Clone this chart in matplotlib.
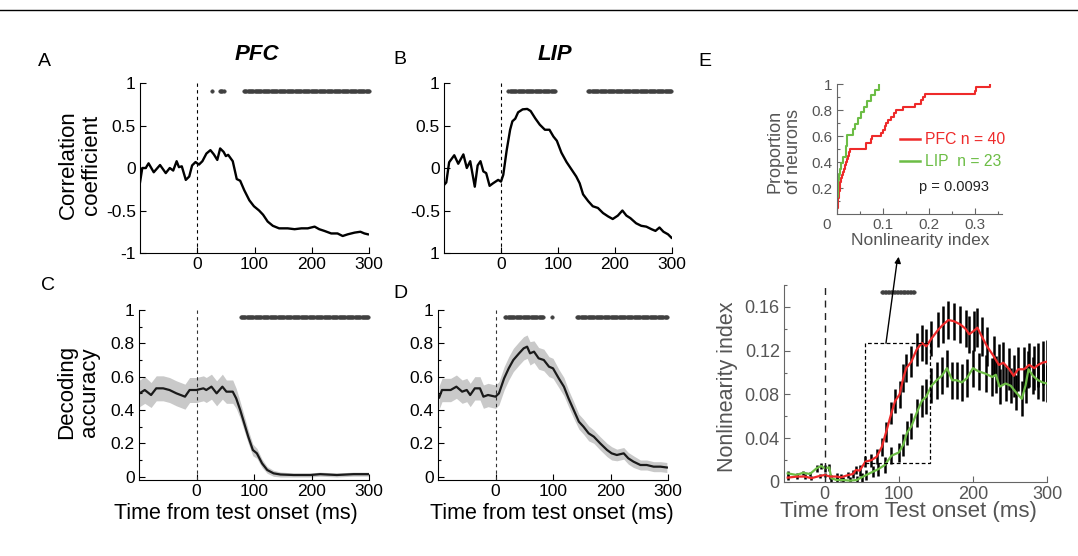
import numpy as np
import matplotlib
matplotlib.use('Agg')
import matplotlib.pyplot as plt
from matplotlib.lines import Line2D

plt.rcParams['font.family'] = ['Liberation Sans', 'DejaVu Sans']
plt.rcParams['axes.unicode_minus'] = False

# ---------------- data ----------------
# Panel A (PFC correlation coefficient)
a_t = [-100, -96, -90, -85, -76, -65, -55, -48, -42, -36, -32, -27, -20, -14, -9, -3, 3, 9, 16, 23, 29, 35, 40,
       46, 50, 54, 62, 69, 75, 82, 91, 99, 108, 115, 123, 132, 143, 158, 170, 182, 193, 205, 213, 222, 234, 245,
       254, 263, 275, 285, 292, 298]
a_v = [-0.17, 0.00, 0.00, 0.055, -0.05, 0.035, -0.06, 0.00, -0.03, 0.08, 0.01, 0.02, -0.14, -0.10, 0.03, 0.07,
       0.04, 0.08, 0.17, 0.21, 0.16, 0.095, 0.23, 0.19, 0.14, 0.155, 0.08, -0.13, -0.15, -0.26, -0.38, -0.45,
       -0.50, -0.55, -0.63, -0.68, -0.71, -0.71, -0.72, -0.71, -0.71, -0.69, -0.72, -0.74, -0.77, -0.77, -0.80,
       -0.78, -0.76, -0.75, -0.77, -0.78]
a_sig = [(25, 25), (40, 46), (82, 300)]

# Panel B (LIP correlation coefficient)
b_t = [-100, -96, -91, -82, -75, -66, -60, -54, -46, -41, -36, -31, -26, -20, -14, -5, 0, 4, 10, 16, 20, 25,
       30, 38, 46, 52, 60, 68, 77, 85, 92, 98, 106, 115, 124, 132, 138, 144, 153, 161, 170, 179, 188, 196, 205,
       213, 220, 227, 237, 246, 255, 264, 271, 278, 285, 293, 299]
b_v = [-0.20, -0.17, 0.067, 0.15, 0.05, 0.16, 0.00, 0.08, -0.22, 0.03, 0.08, -0.04, -0.06, -0.21, -0.18, -0.14,
       -0.16, -0.08, 0.21, 0.45, 0.55, 0.58, 0.655, 0.69, 0.695, 0.67, 0.585, 0.51, 0.45, 0.45, 0.37, 0.32, 0.18,
       0.07, -0.02, -0.10, -0.18, -0.31, -0.39, -0.45, -0.47, -0.53, -0.57, -0.60, -0.56, -0.50, -0.56, -0.59,
       -0.65, -0.68, -0.69, -0.72, -0.74, -0.70, -0.75, -0.78, -0.82]
b_sig = [(13, 96), (153, 300)]

# Panel C (PFC decoding accuracy)
c_t = [-99, -90, -79, -70, -58, -47, -35, -20, -12, 0, 12, 17, 26, 35, 45, 52, 63, 69, 76, 83, 90, 98, 105,
       114, 123, 134, 146, 169, 198, 215, 244, 273, 299]
c_v = [0.50, 0.52, 0.49, 0.53, 0.53, 0.52, 0.50, 0.48, 0.52, 0.52, 0.53, 0.52, 0.54, 0.50, 0.54, 0.51, 0.51,
       0.47, 0.40, 0.32, 0.24, 0.16, 0.14, 0.08, 0.04, 0.02, 0.013, 0.01, 0.01, 0.015, 0.01, 0.015, 0.015]
c_se = [0.08, 0.08, 0.075, 0.075, 0.075, 0.075, 0.075, 0.075, 0.075, 0.075, 0.075, 0.075, 0.075, 0.075, 0.075,
        0.07, 0.07, 0.06, 0.05, 0.045, 0.04, 0.035, 0.03, 0.025, 0.02, 0.018, 0.015, 0.012, 0.012, 0.012, 0.012,
        0.012, 0.012]
c_sig = [(77, 300)]

# Panel D (LIP decoding accuracy)
d_t = [-98, -93, -78, -68, -58, -50, -44, -36, -27, -21, -13, 0, 6, 15, 23, 31, 41, 49, 55, 60, 67, 75, 84, 93,
       100, 110, 119, 127, 136, 145, 153, 162, 171, 182, 194, 202, 211, 223, 231, 240, 252, 263, 275, 287, 298]
d_v = [0.475, 0.52, 0.52, 0.54, 0.51, 0.52, 0.49, 0.53, 0.53, 0.48, 0.49, 0.48, 0.50, 0.59, 0.65, 0.70, 0.74,
       0.77, 0.78, 0.74, 0.75, 0.71, 0.70, 0.66, 0.65, 0.59, 0.54, 0.47, 0.40, 0.33, 0.30, 0.26, 0.24, 0.20, 0.16,
       0.14, 0.13, 0.14, 0.11, 0.09, 0.07, 0.07, 0.06, 0.06, 0.055]
d_se = [0.07, 0.07, 0.07, 0.07, 0.07, 0.07, 0.07, 0.07, 0.07, 0.07, 0.07, 0.07, 0.07, 0.07, 0.07, 0.07, 0.07,
        0.07, 0.07, 0.07, 0.065, 0.065, 0.065, 0.06, 0.06, 0.055, 0.055, 0.05, 0.05, 0.045, 0.045, 0.045, 0.04,
        0.04, 0.04, 0.04, 0.035, 0.035, 0.035, 0.035, 0.03, 0.03, 0.03, 0.03, 0.03]
d_sig = [(17, 84), (98, 98), (142, 298)]

# Panel E main (nonlinearity index)
pfc_t = [-50, -38, -27, -18, -7, 0, 7, 16, 22, 32, 38, 42, 47, 55, 63, 70, 77, 83, 90, 95, 101, 106, 110, 117,
         124, 131, 137, 144, 153, 160, 167, 174, 183, 190, 195, 201, 206, 212, 219, 228, 235, 241, 249, 255, 261,
         269, 276, 283, 288, 294, 300]
pfc_v = [0.0040, 0.0049, 0.0050, 0.0035, 0.0055, 0.0064, 0.0050, 0.0050, 0.0043, 0.0064, 0.0073, 0.0110, 0.0104,
         0.0186, 0.0200, 0.0230, 0.0320, 0.0460, 0.0630, 0.0740, 0.0800, 0.0950, 0.1040, 0.1100, 0.1210, 0.1270,
         0.1240, 0.1310, 0.1390, 0.1440, 0.1480, 0.1470, 0.1440, 0.1400, 0.1350, 0.1380, 0.1410, 0.1330, 0.1240,
         0.1150, 0.1070, 0.1090, 0.1030, 0.0970, 0.1030, 0.1030, 0.1070, 0.1040, 0.1070, 0.1090, 0.1100]
pfc_err = [0.002, 0.002, 0.002, 0.002, 0.002, 0.002, 0.002, 0.003, 0.003, 0.003, 0.004, 0.004, 0.005, 0.005,
           0.006, 0.007, 0.008, 0.009, 0.010, 0.011, 0.012, 0.013, 0.013, 0.014, 0.015, 0.016, 0.016, 0.016,
           0.016, 0.017, 0.017, 0.017, 0.017, 0.017, 0.017, 0.018, 0.018, 0.018, 0.018, 0.018, 0.019, 0.019,
           0.019, 0.019, 0.020, 0.020, 0.020, 0.020, 0.020, 0.020, 0.020]
lip_t = [-50, -38, -29, -20, -11, -5, 0, 6, 9, 16, 25, 34, 43, 50, 56, 65, 72, 81, 90, 100, 106, 111, 117, 124,
         131, 137, 144, 151, 158, 165, 172, 178, 185, 192, 200, 208, 217, 226, 231, 236, 244, 251, 258, 266, 271,
         275, 281, 288, 294, 300]
lip_v = [0.0079, 0.0064, 0.0085, 0.0073, 0.0125, 0.0146, 0.0125, 0.0134, 0.0034, 0.0018, 0.0018, 0.0012, 0.0018,
         0.0043, 0.0064, 0.0094, 0.0116, 0.0155, 0.0240, 0.0270, 0.0340, 0.0450, 0.0510, 0.0630, 0.0740, 0.0780,
         0.0880, 0.0930, 0.0970, 0.1040, 0.0930, 0.0930, 0.0910, 0.0950, 0.1040, 0.1010, 0.0990, 0.0960, 0.0980,
         0.0870, 0.0900, 0.0880, 0.0820, 0.0760, 0.0880, 0.1030, 0.0970, 0.0930, 0.0910, 0.0900]
lip_err = [0.002, 0.002, 0.002, 0.002, 0.003, 0.003, 0.003, 0.003, 0.003, 0.003, 0.003, 0.003, 0.004, 0.004,
           0.005, 0.005, 0.006, 0.007, 0.008, 0.009, 0.010, 0.011, 0.012, 0.013, 0.015, 0.016, 0.016, 0.017,
           0.017, 0.017, 0.017, 0.017, 0.017, 0.017, 0.017, 0.017, 0.017, 0.017, 0.017, 0.016, 0.016, 0.016,
           0.016, 0.016, 0.016, 0.017, 0.017, 0.017, 0.017, 0.017]
e_sig = [(77, 122)]

# Panel E inset (per-neuron nonlinearity index)
pfc_ni = [0.0005, 0.001, 0.0015, 0.002, 0.003, 0.004, 0.005, 0.006, 0.007, 0.0075, 0.008, 0.010, 0.013, 0.015,
          0.017, 0.019, 0.021, 0.023, 0.025, 0.028, 0.062, 0.064, 0.074, 0.076, 0.095, 0.100, 0.104, 0.107,
          0.110, 0.118, 0.124, 0.129, 0.144, 0.169, 0.182, 0.187, 0.191, 0.300, 0.302, 0.333]
lip_ni = [0.0003, 0.0006, 0.001, 0.0015, 0.002, 0.003, 0.004, 0.007, 0.009, 0.012, 0.019, 0.020, 0.021, 0.022,
          0.034, 0.040, 0.045, 0.052, 0.059, 0.065, 0.074, 0.082, 0.091]

# ---------------- styling ----------------
W, H = 1078, 556
RED = '#ee2a2a'
GREEN = '#6cbd45'
GRAYTXT = '#555555'
SIGC = '#404040'

fig = plt.figure(figsize=(W / 100, H / 100), dpi=100)


def fx(px):
    return px / W


def fy(py):
    return 1 - py / H


def add_ax(left, top, right, bottom):
    return fig.add_axes([fx(left), fy(bottom), (right - left) / W, (bottom - top) / H])


def style(ax, color='k', lab='k', fs=12.5):
    for s in ['top', 'right']:
        ax.spines[s].set_visible(False)
    for s in ['left', 'bottom']:
        ax.spines[s].set_color(color)
        ax.spines[s].set_linewidth(0.8)
    ax.tick_params(direction='in', length=4, width=0.8, colors=color, labelcolor=lab, labelsize=fs, pad=3)
    ax.tick_params(which='minor', direction='in', length=2.5, width=0.8, colors=color)


def draw_sig(ax, intervals, y, step=2.0):
    for a, b in intervals:
        ts = np.arange(a, b + 0.01, step) if b > a else np.array([a])
        ax.plot(ts, np.full(len(ts), y), 'o', ms=2.6, color=SIGC, mec=SIGC, mew=0.3, clip_on=False)


# ---- Panel A ----
axA = add_ax(140, 83, 369, 253)
axA.plot(a_t, a_v, color='k', lw=1.7)
axA.axvline(0, color='k', lw=0.8, ls=(0, (3, 3)))
draw_sig(axA, a_sig, 0.91)
axA.set_xlim(-100, 300)
axA.set_ylim(-1, 1)
axA.set_xticks([0, 100, 200, 300])
axA.set_yticks([-1, -0.5, 0, 0.5, 1])
axA.set_yticklabels(['-1', '-0.5', '0', '0.5', '1'])
style(axA)

# ---- Panel B ----
axB = add_ax(444, 83, 672, 253)
axB.plot(b_t, b_v, color='k', lw=1.7)
axB.axvline(0, color='k', lw=0.8, ls=(0, (3, 3)))
draw_sig(axB, b_sig, 0.91)
axB.set_xlim(-100, 300)
axB.set_ylim(-1, 1)
axB.set_xticks([0, 100, 200, 300])
axB.set_yticks([-1, -0.5, 0, 0.5, 1])
axB.set_yticklabels(['1', '-0.5', '0', '0.5', '1'])
style(axB)

# ---- Panel C ----
axC = add_ax(139, 310, 369, 480)
c_lo = [v - s for v, s in zip(c_v, c_se)]
c_hi = [v + s for v, s in zip(c_v, c_se)]
axC.fill_between(c_t, c_lo, c_hi, color='#c9c9c9', lw=0)
axC.plot(c_t, c_v, color='#1a1a1a', lw=1.6)
axC.axvline(0, color='#333333', lw=0.8, ls=(0, (3, 3)))
draw_sig(axC, c_sig, 0.96)
axC.set_xlim(-100, 300)
axC.set_ylim(-0.02, 1)
axC.set_xticks([0, 100, 200, 300])
axC.set_yticks([0, 0.2, 0.4, 0.6, 0.8, 1])
axC.set_yticklabels(['0', '0.2', '0.4', '0.6', '0.8', '1'])
axC.set_yticks(np.arange(0.1, 1.0, 0.2), minor=True)
style(axC)

# ---- Panel D ----
axD = add_ax(438, 310, 668, 480)
d_lo = [v - s for v, s in zip(d_v, d_se)]
d_hi = [v + s for v, s in zip(d_v, d_se)]
axD.fill_between(d_t, d_lo, d_hi, color='#c9c9c9', lw=0)
axD.plot(d_t, d_v, color='#1a1a1a', lw=1.6)
axD.axvline(0, color='#333333', lw=0.8, ls=(0, (3, 3)))
draw_sig(axD, d_sig, 0.956)
axD.set_xlim(-100, 300)
axD.set_ylim(-0.02, 1)
axD.set_xticks([0, 100, 200, 300])
axD.set_yticks([0, 0.2, 0.4, 0.6, 0.8, 1])
axD.set_yticklabels(['0', '0.2', '0.4', '0.6', '0.8', '1'])
axD.set_yticks(np.arange(0.1, 1.0, 0.2), minor=True)
style(axD)

# ---- Panel E main ----
axE = add_ax(784, 285, 1047, 482)
axE.vlines(pfc_t, [v - e for v, e in zip(pfc_v, pfc_err)], [v + e for v, e in zip(pfc_v, pfc_err)],
           color='k', lw=1.8)
axE.vlines(lip_t, [v - e for v, e in zip(lip_v, lip_err)], [v + e for v, e in zip(lip_v, lip_err)],
           color='k', lw=1.8)
axE.plot(lip_t, lip_v, color=GREEN, lw=1.6)
axE.plot(pfc_t, pfc_v, color=RED, lw=1.6)
axE.axvline(0, color='#222222', lw=1.0, ls=(0, (5, 4)))
rect_t = [55, 142, 142, 55, 55]
rect_v = [0.0177, 0.0177, 0.1268, 0.1268, 0.0177]
axE.plot(rect_t, rect_v, color='k', lw=0.9, ls=(0, (3, 2)))
draw_sig(axE, e_sig, 0.174)
axE.set_xlim(-55, 300)
axE.set_ylim(0, 0.18)
axE.set_xticks([0, 100, 200, 300])
axE.set_yticks([0, 0.04, 0.08, 0.12, 0.16])
axE.set_yticklabels(['0', '0.04', '0.08', '0.12', '0.16'])
axE.set_yticks(np.arange(0.02, 0.181, 0.04), minor=True)
style(axE, color='#666666', lab=GRAYTXT, fs=13)

# ---- Panel E inset ----
axI = add_ax(837, 84, 1002, 214)
ps = np.sort(pfc_ni)
ls_ = np.sort(lip_ni)
axI.step(ps, np.arange(1, len(ps) + 1) / len(ps), where='post', color=RED, lw=1.5)
axI.step(ls_, np.arange(1, len(ls_) + 1) / len(ls_), where='post', color=GREEN, lw=1.5)
axI.set_xlim(0, 0.358)
axI.set_ylim(0, 1)
axI.set_xticks([0, 0.1, 0.2, 0.3])
axI.set_xticklabels(['', '0.1', '0.2', '0.3'])
axI.set_xticks([0.05, 0.15, 0.25, 0.35], minor=True)
axI.set_yticks([0.2, 0.4, 0.6, 0.8, 1.0])
axI.set_yticklabels(['0.2', '0.4', '0.6', '0.8', '1'])
axI.set_yticks([0.1, 0.3, 0.5, 0.7, 0.9], minor=True)
style(axI, color='#666666', lab=GRAYTXT, fs=11)

# arrow from rectangle to inset
fig.add_artist(Line2D([fx(886), fx(897)], [fy(343), fy(262)], color='k', lw=1.0))
axE.annotate('', xy=(fx(899), fy(254)), xycoords='figure fraction',
             xytext=(fx(897.5), fy(265)), textcoords='figure fraction',
             arrowprops=dict(arrowstyle='-|>', color='k', lw=1.0, mutation_scale=9))

# ---------------- texts ----------------
def T(px, py, s, **kw):
    fig.text(fx(px), fy(py), s, **kw)


T(38, 62, 'A', fontsize=14, ha='left', va='center')
T(393, 60, 'B', fontsize=14, ha='left', va='center')
T(41, 285, 'C', fontsize=14, ha='left', va='center')
T(393, 293, 'D', fontsize=14, ha='left', va='center')
T(698, 61, 'E', fontsize=14, ha='left', va='center')
T(257, 55, 'PFC', fontsize=16, fontweight='bold', fontstyle='italic', ha='center', va='center')
T(555, 55, 'LIP', fontsize=16, fontweight='bold', fontstyle='italic', ha='center', va='center')
T(80, 165, 'Correlation\ncoefficient', fontsize=16, rotation=90, ha='center', va='center', linespacing=1.15)
T(78, 392, 'Decoding\naccuracy', fontsize=16, rotation=90, ha='center', va='center', linespacing=1.15)
T(236, 513, 'Time from test onset (ms)', fontsize=15.5, ha='center', va='center')
T(552, 513, 'Time from test onset (ms)', fontsize=15.5, ha='center', va='center')
T(908, 512, 'Time from Test onset (ms)', fontsize=16, ha='center', va='center', color=GRAYTXT)
T(728, 387, 'Nonlinearity index', fontsize=15.5, rotation=90, ha='center', va='center', color=GRAYTXT)
T(784, 151, 'Proportion\nof neurons', fontsize=13, rotation=90, ha='center', va='center', color=GRAYTXT,
  linespacing=1.1)
T(920, 241, 'Nonlinearity index', fontsize=12.5, ha='center', va='center', color=GRAYTXT)
T(827, 225, '0', fontsize=11, ha='center', va='center', color=GRAYTXT)
fig.add_artist(Line2D([fx(900), fx(920)], [fy(139), fy(139)], color=RED, lw=1.8))
T(925, 139, 'PFC n = 40', fontsize=11.3, ha='left', va='center', color=RED)
fig.add_artist(Line2D([fx(900), fx(920)], [fy(161), fy(161)], color=GREEN, lw=1.8))
T(925, 161, 'LIP  n = 23', fontsize=11.3, ha='left', va='center', color=GREEN)
T(919, 187, 'p = 0.0093', fontsize=10.5, ha='left', va='center', color='#222222')

# top border line
fig.add_artist(Line2D([0, 1], [fy(10), fy(10)], color='k', lw=1.0))

fig.savefig('out.png', dpi=100)
